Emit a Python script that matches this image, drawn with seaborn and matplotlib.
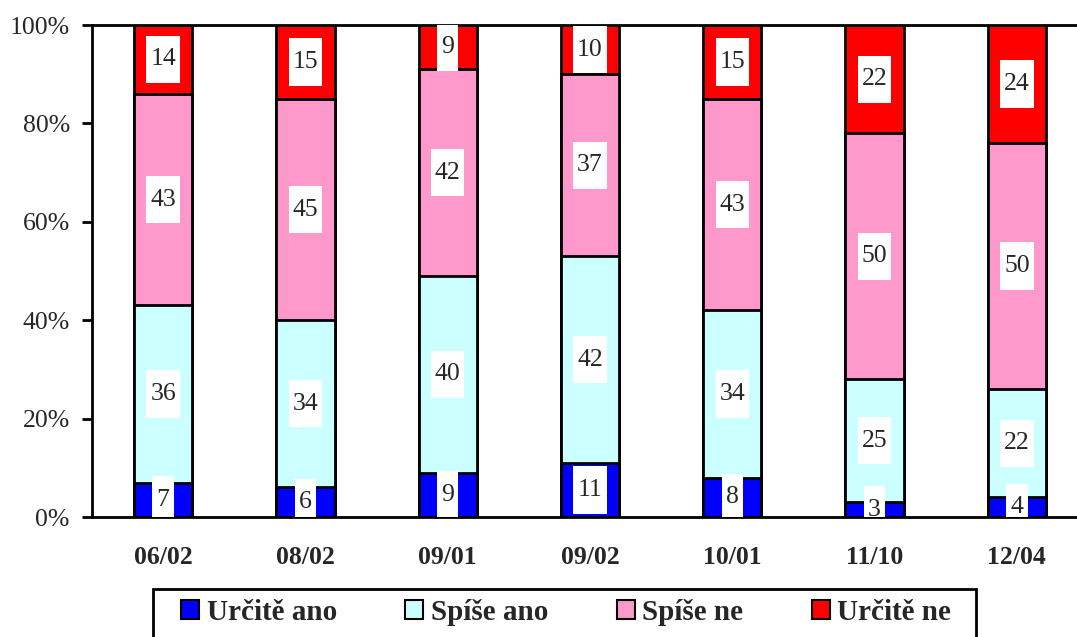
import matplotlib
matplotlib.use("Agg")
import matplotlib.pyplot as plt
from matplotlib.patches import Rectangle
import seaborn as sns
import pandas as pd
import numpy as np

categories = ["06/02", "08/02", "09/01", "09/02", "10/01", "11/10", "12/04"]
series_names = ["Určitě ano", "Spíše ano", "Spíše ne", "Určitě ne"]
urcite_ano = [7, 6, 9, 11, 8, 3, 4]
spise_ano = [36, 34, 40, 42, 34, 25, 22]
spise_ne = [43, 45, 42, 37, 43, 50, 50]
urcite_ne = [14, 15, 9, 10, 15, 22, 24]
colors = ["#0000FF", "#CCFFFF", "#FF99CC", "#FF0000"]
ytick_labels = ["0%", "20%", "40%", "60%", "80%", "100%"]

sns.set_style("white")
plt.rcParams["font.family"] = ["Liberation Serif", "DejaVu Serif"]

series = [urcite_ano, spise_ano, spise_ne, urcite_ne]
cum = np.cumsum(np.array(series), axis=0)

fig = plt.figure(figsize=(10.77, 6.37), dpi=100)
ax = fig.add_axes([92/1077, 1-517/637, 996/1077, 492/637])

FS = 18.5
bar_w = 0.41
for i in range(3, -1, -1):
    df = pd.DataFrame({"cat": categories, "val": cum[i]})
    sns.barplot(data=df, x="cat", y="val", color=colors[i], saturation=1,
                width=bar_w, edgecolor="black", linewidth=2.0, ax=ax, zorder=2)

# labels in white boxes
box_h = 9.6
for i in range(4):
    bottoms = cum[i] - np.array(series[i])
    for j, v in enumerate(series[i]):
        yc = bottoms[j] + v / 2
        bw = 0.235 if v >= 10 else 0.15
        ax.add_patch(Rectangle((j - bw/2, yc - box_h/2), bw, box_h,
                               facecolor="white", edgecolor="none", zorder=5, clip_on=True))
        ax.text(j, yc, str(v), ha="center", va="center", fontsize=FS, zorder=6)

ax.set_xlim(-0.5, 6.5)
ax.set_ylim(0, 100)
ax.set_yticks(range(0, 101, 20))
ax.set_yticklabels(ytick_labels, fontsize=FS)
ax.set_xticks(range(len(categories)))
ax.set_xticklabels(categories, fontsize=FS, fontweight="bold")
ax.set_xticks(np.arange(-0.5, 7, 1), minor=True)
ax.tick_params(axis="x", which="major", length=0, pad=21)
ax.tick_params(axis="x", which="minor", length=7, width=2.0, direction="out", color="black")
ax.tick_params(axis="y", length=7, width=2.0, direction="out", color="black", pad=9, left=True)
ax.set_xlabel("")
ax.set_ylabel("")
for s in ["left", "bottom", "top"]:
    ax.spines[s].set_visible(True)
    ax.spines[s].set_color("black")
    ax.spines[s].set_linewidth(2.0)
ax.spines["top"].set_zorder(4)
ax.spines["right"].set_visible(False)

LFS = 21
handles = [Rectangle((0, 0), 1, 1, facecolor=c, edgecolor="black", linewidth=1.5) for c in colors]
leg = fig.legend(handles, series_names, loc="center", ncol=4,
                 bbox_to_anchor=(566/1077, 1-612/637), frameon=False,
                 prop={"size": LFS, "weight": "bold"},
                 handlelength=0.62, handleheight=0.62, handletextpad=0.25,
                 columnspacing=2.35, borderpad=0.2, borderaxespad=0)
# legend frame box
fig.add_artist(Rectangle((153/1077, -0.02), (976-153)/1077, 0.02 + (637-589)/637,
                         transform=fig.transFigure, facecolor="none",
                         edgecolor="black", linewidth=2.0))

fig.savefig("out.png", dpi=100)
